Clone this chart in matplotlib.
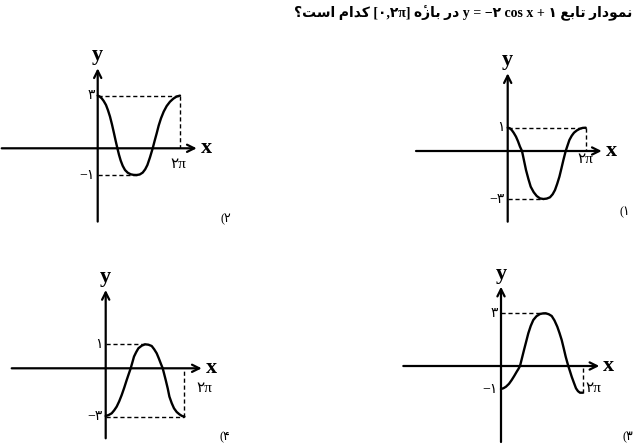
import numpy as np
import matplotlib
matplotlib.use("Agg")
import matplotlib.pyplot as plt

plt.rcParams['font.family'] = ['Liberation Serif', 'DejaVu Sans']

# curve points (local units, origin at axis crossing)
curve1_x = [0, 2, 4, 6, 8.3, 10.3, 12.3, 14.3, 16.3, 18.3, 20.7, 23, 26, 29, 32.3, 35.7, 39, 42.3, 45, 47.3,
            49.5, 51.7, 53.7, 55.7, 58, 60, 61.7, 64, 66.3, 69.3, 72.3, 75, 78]
curve1_y = [23.3, 22.8, 21, 18.2, 14.3, 9.7, 4.3, 0, -9.5, -19, -28, -35.7, -41.2, -45, -47.4, -48, -47.6,
            -46.3, -43.2, -39, -32.8, -25.7, -17.5, -9, 0, 6, 11, 15.2, 18.3, 20.7, 22.3, 23.1, 23.3]

curve2_x = [0, 2, 4, 6, 8.3, 10.3, 12.3, 14.3, 16.3, 18, 19.7, 21.3, 23, 25, 27.3, 30, 33, 36, 39, 42,
            45, 47.5, 49.7, 52.3, 55, 57, 59, 61, 63.3, 66, 69, 72.3, 75.7, 79, 82.3]
curve2_y = [52.7, 51.8, 50, 47.3, 43.3, 38, 31.7, 23.8, 15, 7.3, 0, -6.5, -12.3, -17.5, -21.7, -24.4, -26,
            -26.6, -26.7, -26.2, -24.3, -21, -16.7, -9, 0, 7.7, 15, 22.8, 30, 36.7, 42.3, 46.6, 49.7, 51.8, 52.7]

curve3_x = [0, 2.5, 5, 8, 10.7, 13.2, 15.7, 17.5, 19, 21, 23, 25.2, 27.3, 29.7, 32.3, 35.5, 39, 42,
            44.7, 47.7, 50.7, 53.5, 56.3, 58.5, 60.7, 62.7, 64.7, 66, 67.3, 69, 70.7, 73, 75, 77, 79, 81.7]
curve3_y = [-23, -22.2, -20.7, -17.8, -14, -10, -5.7, -2.8, 0, 8, 16, 24.5, 32.7, 40, 46, 49.8, 52, 52.6,
            52.7, 51.8, 50, 45.5, 39.3, 33, 26, 17.8, 9.3, 4.6, 0, -5.3, -10.7, -17, -22.3, -25.2, -26.7, -26.7]

curve4_x = [0, 3, 6, 8.5, 11, 13.5, 16, 18.5, 21, 23, 25, 26.7, 28.3, 30.5, 32.7, 36, 39.3, 42.7, 46,
            48.5, 51, 53, 55, 56, 57, 58.5, 60, 62, 63.7, 66, 68.3, 71, 73.7, 76.2, 78.7]
curve4_y = [-47.7, -46.7, -45, -42, -38.3, -33, -26.7, -19.5, -11.7, -5.8, 0, 6, 11.7, 16.2, 20, 22.6,
            24, 23.6, 22.3, 19, 15, 10.2, 5, 2.5, 0, -5.8, -11.7, -20, -28.3, -34.8, -40, -43.7, -46, -47.6, -48.3]

top_labels = ['۱', '۳', '۳', '۱']
bottom_labels = ['−۳', '−۱', '−۱', '−۳']
option_labels = ['(۱', '(۲', '(۳', '(۴']
end_label = '۲π'

# Persian shaping (isolated, final, initial, medial)
FORMS = {
    'ا': (0xFE8D, 0xFE8E), 'ب': (0xFE8F, 0xFE90, 0xFE91, 0xFE92),
    'ت': (0xFE95, 0xFE96, 0xFE97, 0xFE98), 'د': (0xFEA9, 0xFEAA),
    'ر': (0xFEAD, 0xFEAE), 'ز': (0xFEAF, 0xFEB0),
    'س': (0xFEB1, 0xFEB2, 0xFEB3, 0xFEB4), 'ع': (0xFEC9, 0xFECA, 0xFECB, 0xFECC),
    'م': (0xFEE1, 0xFEE2, 0xFEE3, 0xFEE4), 'ن': (0xFEE5, 0xFEE6, 0xFEE7, 0xFEE8),
    'ه': (0xFEE9, 0xFEEA, 0xFEEB, 0xFEEC), 'و': (0xFEED, 0xFEEE),
    'ک': (0xFB8E, 0xFB8F, 0xFB90, 0xFB91),
}


def fa(text):
    chars = list(text)
    clusters = []
    for i, c in enumerate(chars):
        if c == '\u0654':
            clusters[-1] += c
            continue
        if c not in FORMS:
            clusters.append(c)
            continue
        prev = chars[i - 1] if i > 0 else ''
        j = i + 1
        while j < len(chars) and chars[j] == '\u0654':
            j += 1
        nxt = chars[j] if j < len(chars) else ''
        jp = prev in FORMS and len(FORMS[prev]) == 4
        jn = len(FORMS[c]) == 4 and nxt in FORMS
        f = FORMS[c]
        if jp and jn:
            g = f[3]
        elif jp:
            g = f[1]
        elif jn:
            g = f[2]
        else:
            g = f[0]
        clusters.append(chr(g))
    return ''.join(clusters[::-1])


title = ' '.join([fa('کدام است؟'), '[۰,۲π]', fa('در بازهٔ'),
                  'y = −۲ cos x + ۱', fa('نمودار تابع')])

fig = plt.figure(figsize=(6.35, 4.44), dpi=100)
ax = fig.add_axes([0, 0, 1, 1])
ax.set_xlim(0, 635)
ax.set_ylim(444, 0)
ax.axis('off')

ax.text(632, 13, title, ha='right', va='center', fontsize=10, fontweight='bold')

panels = [
    # origin, x-axis span, y-axis span, curve, dashes, 2pi label offset, option label pos
    dict(o=(507.7, 151), xa=(-91.7, 94), ya=(-70.7, 77.7), x=curve1_x, y=curve1_y,
         dash=('top_end', 'vert_top', 'bot_min'), lab=(0, 2), opt=(625, 212)),
    dict(o=(97.7, 148.3), xa=(-96, 99), ya=(-73.3, 80), x=curve2_x, y=curve2_y,
         dash=('top_end', 'vert_top', 'bot_min'), lab=(-2, 10), opt=(226, 219)),
    dict(o=(501, 366), xa=(-97.7, 98.3), ya=(-76, 79.3), x=curve3_x, y=curve3_y,
         dash=('top_max', 'vert_end'), lab=(11, 16), opt=(628, 437)),
    dict(o=(105.7, 368.3), xa=(-94, 96), ya=(-70, 78.3), x=curve4_x, y=curve4_y,
         dash=('top_max', 'bot_end', 'vert_end'), lab=(20, 14), opt=(225, 437)),
]

arrow = dict(arrowstyle='->', lw=1.6, color='black', shrinkA=0, shrinkB=0,
             mutation_scale=13)
dash_kw = dict(color='black', lw=1.0, ls=(0, (3, 2)))

for i, p in enumerate(panels):
    ox, oy = p['o']
    x = np.array(p['x'])
    y = np.array(p['y'])
    ax.annotate('', xy=(ox + p['xa'][1], oy), xytext=(ox + p['xa'][0], oy), arrowprops=arrow)
    ax.annotate('', xy=(ox, oy - p['ya'][1]), xytext=(ox, oy - p['ya'][0]), arrowprops=arrow)

    ytop, ybot = y.max(), y.min()
    xe, ye = x[-1], y[-1]
    for d in p['dash']:
        if d == 'top_end':
            ax.plot([ox, ox + xe], [oy - ytop] * 2, **dash_kw)
        elif d == 'top_max':
            ax.plot([ox, ox + x[np.argmax(y)]], [oy - ytop] * 2, **dash_kw)
        elif d == 'bot_min':
            ax.plot([ox, ox + x[np.argmin(y)]], [oy - ybot] * 2, **dash_kw)
        elif d == 'bot_end':
            ax.plot([ox, ox + xe], [oy - ybot] * 2, **dash_kw)
        elif d == 'vert_top':
            ax.plot([ox + xe] * 2, [oy - ytop, oy], **dash_kw)
        elif d == 'vert_end':
            ax.plot([ox + xe] * 2, [oy - ye, oy], **dash_kw)

    ax.plot(ox + x, oy - y, color='black', lw=1.7, solid_capstyle='round', solid_joinstyle='round')

    lo = ybot if i != 2 else y[0]
    ax.text(ox - 3, oy - ytop, top_labels[i], ha='right', va='center', fontsize=10)
    ax.text(ox - 3, oy - lo, bottom_labels[i], ha='right', va='center', fontsize=10)
    ax.text(ox + xe + p['lab'][0], oy + p['lab'][1], end_label, ha='center', va='top', fontsize=11)
    ax.text(ox, oy - p['ya'][1] - 3, 'y', ha='center', va='bottom', fontsize=16, fontweight='bold')
    ax.text(ox + p['xa'][1] + 4, oy, 'x', ha='left', va='center', fontsize=16, fontweight='bold')
    ax.text(p['opt'][0], p['opt'][1], option_labels[i], ha='center', va='center', fontsize=9)

fig.savefig('out.png', dpi=100)
